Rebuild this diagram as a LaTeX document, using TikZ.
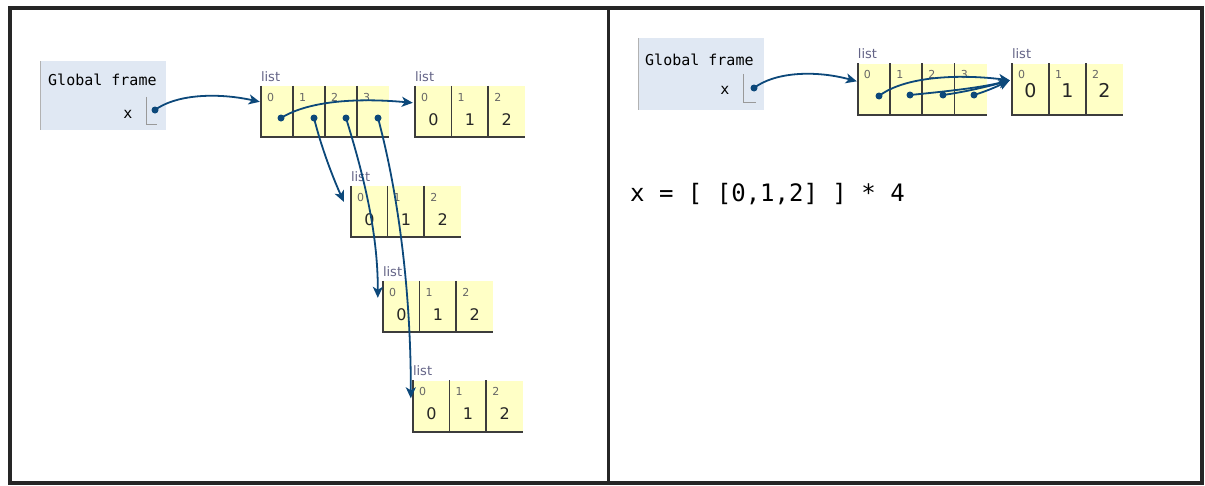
\documentclass[tikz,border=0pt]{standalone}
\usepackage{fontspec}
\usetikzlibrary{arrows.meta}
\newfontfamily\pyfont{DejaVu Sans Mono}
\newfontfamily\heapfont{DejaVu Sans}
\definecolor{listyellow}{RGB}{255,255,198}
\definecolor{frameblue}{RGB}{224,232,243}
\definecolor{pointer}{RGB}{12,72,122}
\definecolor{rimgrey}{RGB}{60,60,60}
\definecolor{typegrey}{RGB}{100,100,135}

\tikzset{
	cell/.style={fill=listyellow, minimum width=#1, minimum height=51pt, inner sep=0pt,
		text height=27pt, text depth=0pt, text=black!85,
		font=\heapfont\fontsize{16}{16}\selectfont},
	cell/.default=36.7pt,
	cellr/.style={cell=#1, text height=16pt, font=\heapfont\fontsize{19}{19}\selectfont},
	cellr/.default=37pt,
	idx/.style={anchor=north west, inner sep=0pt, xshift=6pt, yshift=-7pt, text=black!60,
		font=\heapfont\fontsize{11}{11}\selectfont},
	typelbl/.style={anchor=south west, inner sep=0pt, yshift=4pt, text=typegrey,
		font=\heapfont\fontsize{13}{13}\selectfont},
	rim/.style={draw=rimgrey, line width=1.6pt},
	dot/.style={circle, fill=pointer, inner sep=0pt, minimum size=7pt},
	ptr/.style={draw=pointer, line width=1.8pt, -{Stealth[length=11pt,width=10pt,inset=3pt]}},
	gframe/.style={anchor=north west, fill=frameblue, minimum width=126pt, inner sep=0pt},
	slot/.style={inner sep=0pt, minimum width=#1, minimum height=27pt},
	mono/.style={inner sep=0pt, font=\pyfont\fontsize{15}{15}\selectfont}
}

\begin{document}
\begin{tikzpicture}[x=1pt, y=-1pt]
	
	\useasboundingbox (0,0) rectangle (1205,485);
	\fill[white] (0,0) rectangle (1205,485);
	
	%Outer frame
	\draw[line width=4pt, black!85] (9.5,8) rectangle (1202,482.5);
	\draw[line width=3pt, black!85] (608,8) -- (608,482.5);
	
	%%% Left part %%%
	
	%Global frame
	\node (gfL) at (40,61) [gframe, minimum height=69pt]{};
	\draw[black!30, line width=1pt] (gfL.north west) -- (gfL.south west);
	\node (gtL) at (48,85) [mono, anchor=base west]{Global frame};
	\node (xL) at (128,114) [mono]{x};
	\node (slotL) at (152,110.5) [slot=10pt]{};
	\draw[black!40, line width=0.8pt] (slotL.north west) -- (slotL.south west) -- (slotL.south east);
	\node (dL) at (155,110) [dot]{};
	
	%Nodes: outer list
	\node (lA0) at (277,111.5) [cell=32pt, label={[idx]north west:0}]{};
	\node (lA1) at (309,111.5) [cell=32pt, label={[idx]north west:1}]{};
	\node (lA2) at (341,111.5) [cell=32pt, label={[idx]north west:2}]{};
	\node (lA3) at (373,111.5) [cell=32pt, label={[idx]north west:3}]{};
	\node (tA) at (lA0.north west) [typelbl]{list};
	\draw[rim] (lA0.north west) -- (lA0.south west) -- (lA3.south east);
	\draw[rim] (lA1.north west) -- (lA1.south west);
	\draw[rim] (lA2.north west) -- (lA2.south west);
	\draw[rim] (lA3.north west) -- (lA3.south west);
	
	\node (dA0) at (281,118) [dot]{};
	\node (dA1) at (314,118) [dot]{};
	\node (dA2) at (346,118) [dot]{};
	\node (dA3) at (378,118) [dot]{};
	
	%Nodes: inner lists
	\node (lB0) at (433.35,111.5) [cell, label={[idx]north west:0}]{0};
	\node (lB1) at (470.05,111.5) [cell, label={[idx]north west:1}]{1};
	\node (lB2) at (506.75,111.5) [cell, label={[idx]north west:2}]{2};
	\node (tB) at (lB0.north west) [typelbl]{list};
	\draw[rim] (lB0.north west) -- (lB0.south west) -- (lB2.south east);
	\draw[rim] (lB1.north west) -- (lB1.south west);
	\draw[rim] (lB2.north west) -- (lB2.south west);
	
	\node (lC0) at (369.35,211.5) [cell, label={[idx]north west:0}]{0};
	\node (lC1) at (406.05,211.5) [cell, label={[idx]north west:1}]{1};
	\node (lC2) at (442.75,211.5) [cell, label={[idx]north west:2}]{2};
	\node (tC) at (lC0.north west) [typelbl]{list};
	\draw[rim] (lC0.north west) -- (lC0.south west) -- (lC2.south east);
	\draw[rim] (lC1.north west) -- (lC1.south west);
	\draw[rim] (lC2.north west) -- (lC2.south west);
	
	\node (lD0) at (401.35,306.5) [cell, label={[idx]north west:0}]{0};
	\node (lD1) at (438.05,306.5) [cell, label={[idx]north west:1}]{1};
	\node (lD2) at (474.75,306.5) [cell, label={[idx]north west:2}]{2};
	\node (tD) at (lD0.north west) [typelbl]{list};
	\draw[rim] (lD0.north west) -- (lD0.south west) -- (lD2.south east);
	\draw[rim] (lD1.north west) -- (lD1.south west);
	\draw[rim] (lD2.north west) -- (lD2.south west);
	
	\node (lE0) at (431.35,406) [cell, label={[idx]north west:0}]{0};
	\node (lE1) at (468.05,406) [cell, label={[idx]north west:1}]{1};
	\node (lE2) at (504.75,406) [cell, label={[idx]north west:2}]{2};
	\node (tE) at (lE0.north west) [typelbl]{list};
	\draw[rim] (lE0.north west) -- (lE0.south west) -- (lE2.south east);
	\draw[rim] (lE1.north west) -- (lE1.south west);
	\draw[rim] (lE2.north west) -- (lE2.south west);
	
	%Links
	\draw[ptr] (dL.center) .. controls (175,95) and (215,92) .. ([xshift=-1pt,yshift=-16pt]lA0.north west);
	\draw[ptr] (dA0.center) .. controls (310,100) and (360,98) .. ([xshift=-2pt,yshift=-17pt]lB0.north west);
	\draw[ptr] (dA1.center) .. controls (322,150) and (334,180) .. ([xshift=-7pt,yshift=-16pt]lC0.north west);
	\draw[ptr] (dA2.center) .. controls (362,170) and (378,230) .. ([xshift=-5pt,yshift=-17pt]lD0.north west);
	\draw[ptr] (dA3.center) .. controls (400,200) and (411,300) .. ([xshift=-2pt,yshift=-18pt]lE0.north west);
	
	%%% Right part %%%
	
	%Global frame
	\node (gfR) at (638,38) [gframe, minimum height=72pt]{};
	\draw[black!30, line width=1pt] (gfR.north west) -- (gfR.south west);
	\node (gtR) at (645,65) [mono, anchor=base west]{Global frame};
	\node (xR) at (725,90) [mono]{x};
	\node (slotR) at (750,88) [slot=12pt, minimum height=28pt]{};
	\draw[black!40, line width=0.8pt] (slotR.north west) -- (slotR.south west) -- (slotR.south east);
	\node (dR) at (754,88) [dot]{};
	
	%Nodes: outer list
	\node (rA0) at (874.1,89) [cellr=32.25pt, label={[idx]north west:0}]{};
	\node (rA1) at (906.4,89) [cellr=32.25pt, label={[idx]north west:1}]{};
	\node (rA2) at (938.6,89) [cellr=32.25pt, label={[idx]north west:2}]{};
	\node (rA3) at (970.9,89) [cellr=32.25pt, label={[idx]north west:3}]{};
	\node (uA) at (rA0.north west) [typelbl]{list};
	\draw[rim] (rA0.north west) -- (rA0.south west) -- (rA3.south east);
	\draw[rim] (rA1.north west) -- (rA1.south west);
	\draw[rim] (rA2.north west) -- (rA2.south west);
	\draw[rim] (rA3.north west) -- (rA3.south west);
	
	\node (eA0) at (879,96) [dot]{};
	\node (eA1) at (910,95) [dot]{};
	\node (eA2) at (943,95) [dot]{};
	\node (eA3) at (974,95) [dot]{};
	
	%Nodes: shared inner list
	\node (rB0) at (1030.5,89) [cellr, label={[idx]north west:0}]{0};
	\node (rB1) at (1067.5,89) [cellr, label={[idx]north west:1}]{1};
	\node (rB2) at (1104.5,89) [cellr, label={[idx]north west:2}]{2};
	\node (uB) at (rB0.north west) [typelbl]{list};
	\draw[rim] (rB0.north west) -- (rB0.south west) -- (rB2.south east);
	\draw[rim] (rB1.north west) -- (rB1.south west);
	\draw[rim] (rB2.north west) -- (rB2.south west);
	
	%Links
	\draw[ptr] (dR.center) .. controls (775,72) and (815,70) .. ([xshift=-1pt,yshift=-18pt]rA0.north west);
	\draw[ptr] (eA0.center) .. controls (905,76) and (960,74) .. ([xshift=-2pt,yshift=-17pt]rB0.north west);
	\draw[ptr] (eA1.center) .. controls (940,92) and (980,88) .. ([xshift=-2pt,yshift=-17pt]rB0.north west);
	\draw[ptr] (eA2.center) .. controls (965,92) and (990,86) .. ([xshift=-2pt,yshift=-17pt]rB0.north west);
	\draw[ptr] (eA3.center) .. controls (990,90) and (1000,85) .. ([xshift=-2pt,yshift=-17pt]rB0.north west);
	
	%Code line
	\node (code) at (630,201) [anchor=base west, inner sep=0pt, 
	font=\pyfont\fontsize{24}{24}\selectfont]{x = [ [0,1,2] ] * 4};
	
\end{tikzpicture}
\end{document}
